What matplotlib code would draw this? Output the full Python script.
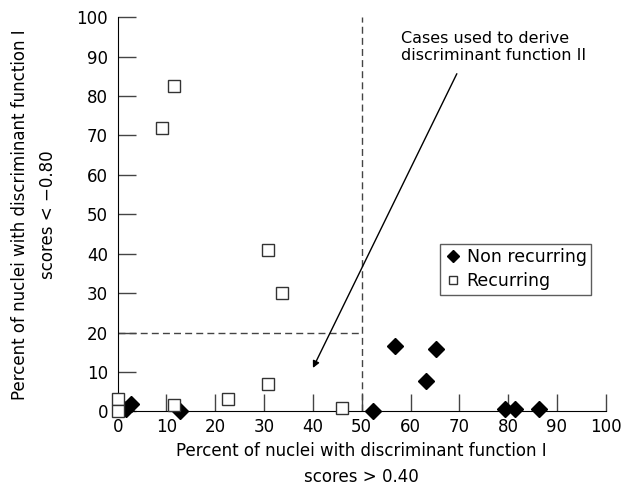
import matplotlib
matplotlib.use('Agg')
import matplotlib.pyplot as plt

# Dados
rec_x = [9, 11.5, 30.7, 33.6, 30.8, 22.7, 11.6, 0, 0, 45.9]
rec_y = [72, 82.6, 40.9, 30, 6.9, 3.0, 1.6, 3.2, 0.2, 0.8]

non_x = [1.8, 2.7, 12.8, 52.3, 56.9, 63.1, 65.2, 79.3, 81.4, 86.4]
non_y = [0.6, 1.8, 0, 0, 16.7, 7.6, 15.7, 0.7, 0.7, 0.7]

ticks = list(range(0, 101, 10))

plt.rcParams['font.family'] = 'DejaVu Sans'

fig = plt.figure(figsize=(6.31, 4.91), dpi=100)
ax = fig.add_axes([0.1865, 0.1623, 0.7735, 0.8025])

# Linhas tracejadas
ax.plot([50, 50], [0, 100], ls='--', color='#444444', lw=1, dashes=(5, 3))
ax.plot([0, 50], [20, 20], ls='--', color='#444444', lw=1, dashes=(5, 3))

ax.plot(non_x, non_y, 'D', color='black', markersize=8.5, clip_on=False,
        label='Non recurring', zorder=3)
ax.plot(rec_x, rec_y, 's', mfc='white', mec='#333333', mew=1, markersize=8.5,
        clip_on=False, label='Recurring', zorder=3)

ax.set_xlim(0, 100)
ax.set_ylim(0, 100)
ax.set_xticks(ticks)
ax.set_yticks(ticks)
ax.spines['top'].set_visible(False)
ax.spines['right'].set_visible(False)
ax.tick_params(direction='in', length=13, width=1, labelsize=12, color='#444444')
ax.tick_params(axis='x', length=12, pad=5)
ax.tick_params(axis='y', pad=7)

ax.set_xlabel('Percent of nuclei with discriminant function I\nscores > 0.40',
              fontsize=12, labelpad=4, linespacing=1.6)
ax.set_ylabel('Percent of nuclei with discriminant function I\nscores < \u22120.80',
              fontsize=12, labelpad=14, linespacing=1.7)

# Anotação
ax.annotate('Cases used to derive\ndiscriminant function II',
            xy=(40, 11), xytext=(58, 96.5), fontsize=11.5, ha='left', va='top',
            arrowprops=dict(arrowstyle='-|>', color='black', lw=1,
                            mutation_scale=10, relpos=(0.33, 0),
                            shrinkA=6, shrinkB=0))

leg = ax.legend(loc='upper left', bbox_to_anchor=(0.66, 0.425), fontsize=12.5,
                frameon=True, fancybox=False, edgecolor='#333333',
                handletextpad=0.3, handlelength=1.0, borderpad=0.25,
                labelspacing=0.35, borderaxespad=0, markerscale=0.7)
leg.get_frame().set_linewidth(1)

plt.savefig('out.png', dpi=100)
